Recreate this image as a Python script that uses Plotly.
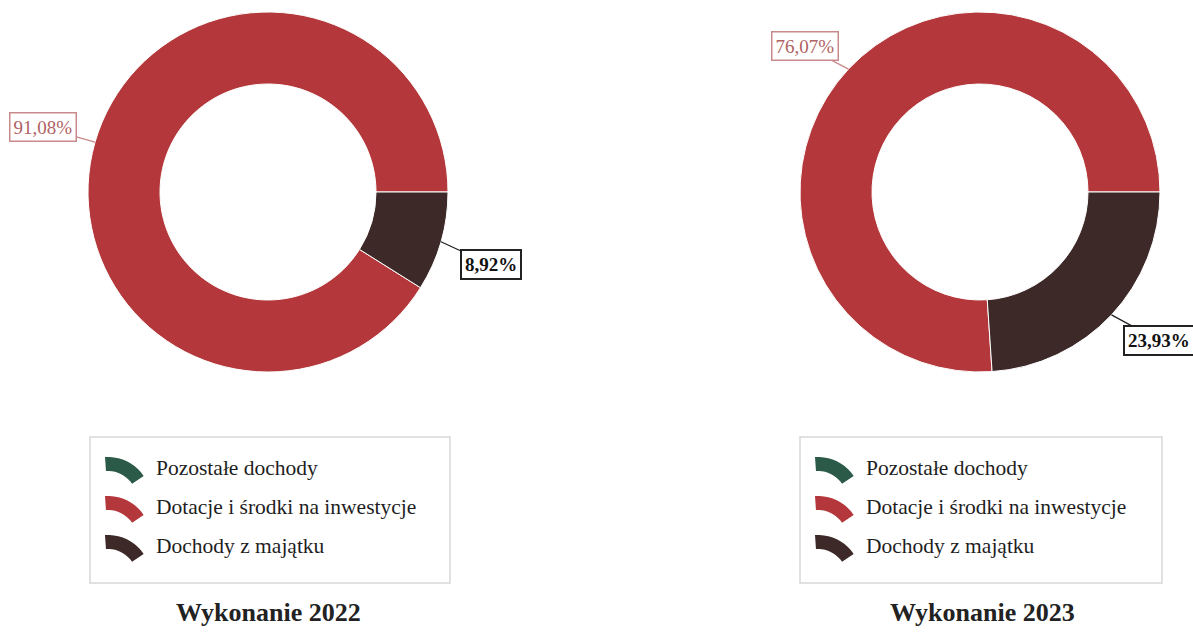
import math
import plotly.graph_objects as go

# ---- data ----
categories = ["Pozostałe dochody", "Dotacje i środki na inwestycje", "Dochody z majątku"]
values_2022 = [0.0, 91.08, 8.92]
values_2023 = [0.0, 76.07, 23.93]
value_labels_2022 = ["", "91,08%", "8,92%"]
value_labels_2023 = ["", "76,07%", "23,93%"]
titles = ["Wykonanie 2022", "Wykonanie 2023"]

# ---- style / layout ----
W, H = 1193, 633
colors = ["#2b5a49", "#b4383b", "#3d2a28"]
label_font_colors = ["#2b5a49", "#b06264", "#111111"]
label_border_colors = ["#2b5a49", "#c98a8b", "#222222"]
label_border_widths = [1, 1.5, 2]
SERIF = "Liberation Serif, Times New Roman, serif"

# pie placement in pixels: centre x, centre y, radius
pies = [
    dict(cx=268, cy=192, r=180, values=values_2022, texts=value_labels_2022,
         offsets={1: (-52, -15), 2: (50, 23)}, legend_box=(90, 437, 450, 583), title_x=268),
    dict(cx=980, cy=192, r=180, values=values_2023, texts=value_labels_2023,
         offsets={1: (-44, -23), 2: (48, 26)}, legend_box=(800, 437, 1162, 583), title_x=982),
]

def px(x):
    return x / W

def py(y):
    return 1 - y / H

fig = go.Figure()
annotations = []
shapes = []

for i, p in enumerate(pies):
    cx, cy, r = p["cx"], p["cy"], p["r"]
    fig.add_trace(go.Pie(
        labels=categories,
        values=p["values"],
        hole=0.6,
        sort=False,
        direction="counterclockwise",
        rotation=90,
        textinfo="none",
        showlegend=False,
        marker=dict(colors=colors, line=dict(color="white", width=1)),
        domain=dict(x=[px(cx - r), px(cx + r)], y=[py(cy + r), py(cy - r)]),
        hovertemplate="%{label}: %{value:.2f}%<extra></extra>",
    ))

    # value labels with leader lines, anchored at slice mid-angle on the outer rim
    total = sum(p["values"])
    cum = 0.0
    for k, v in enumerate(p["values"]):
        start = cum
        cum += v
        if v <= 0:
            continue
        mid = (start + v / 2) / total * 2 * math.pi  # counterclockwise from 3 o'clock
        x0 = cx + r * math.cos(mid)
        y0 = cy - r * math.sin(mid)
        ax, ay = p["offsets"][k]
        txt = p["texts"][k]
        if k == 2:
            txt = "<b>" + txt + "</b>"
        annotations.append(dict(
            x=px(x0), y=py(y0), xref="paper", yref="paper",
            text=txt, showarrow=True, arrowhead=0, arrowwidth=1.3,
            arrowcolor=label_border_colors[k] if k != 2 else "#222222",
            ax=ax, ay=ay, standoff=0,
            font=dict(family=SERIF, size=19, color=label_font_colors[k]),
            bgcolor="white", bordercolor=label_border_colors[k],
            borderwidth=label_border_widths[k], borderpad=3,
        ))

    # legend box
    bx0, by0, bx1, by1 = p["legend_box"]
    shapes.append(dict(type="rect", xref="paper", yref="paper",
                       x0=px(bx0), x1=px(bx1), y0=py(by1), y1=py(by0),
                       line=dict(color="#d8d8d8", width=1.5), fillcolor="white", layer="below"))
    for j, name in enumerate(categories):
        ycen = 468 + j * 39
        # arc-shaped legend icon
        icx, icy = bx0 + 18, ycen + 32
        ro, ri = 43, 29
        angs = [math.radians(a) for a in range(94, 33, -6)]
        pts = [(icx + ro * math.cos(a), icy - ro * math.sin(a)) for a in angs]
        pts += [(icx + ri * math.cos(a), icy - ri * math.sin(a)) for a in reversed(angs)]
        path = "M " + " L ".join(f"{px(x):.5f},{py(y):.5f}" for x, y in pts) + " Z"
        shapes.append(dict(type="path", xref="paper", yref="paper", path=path,
                           fillcolor=colors[j], line=dict(width=0)))
        annotations.append(dict(
            x=px(bx0 + 64), y=py(ycen), xref="paper", yref="paper",
            xanchor="left", yanchor="middle", showarrow=False, text=name,
            font=dict(family=SERIF, size=21.5, color="#1e1e1e"),
        ))

    annotations.append(dict(
        x=px(p["title_x"]), y=py(612), xref="paper", yref="paper",
        xanchor="center", yanchor="middle", showarrow=False,
        text="<b>" + titles[i] + "</b>",
        font=dict(family=SERIF, size=26, color="#222222"),
    ))

fig.update_layout(
    width=W, height=H,
    margin=dict(l=0, r=0, t=0, b=0),
    paper_bgcolor="white", plot_bgcolor="white",
    annotations=annotations, shapes=shapes,
    showlegend=False,
)

fig.write_html("out.html", config={"displayModeBar": False},
               post_script="document.body.style.margin='0';")
